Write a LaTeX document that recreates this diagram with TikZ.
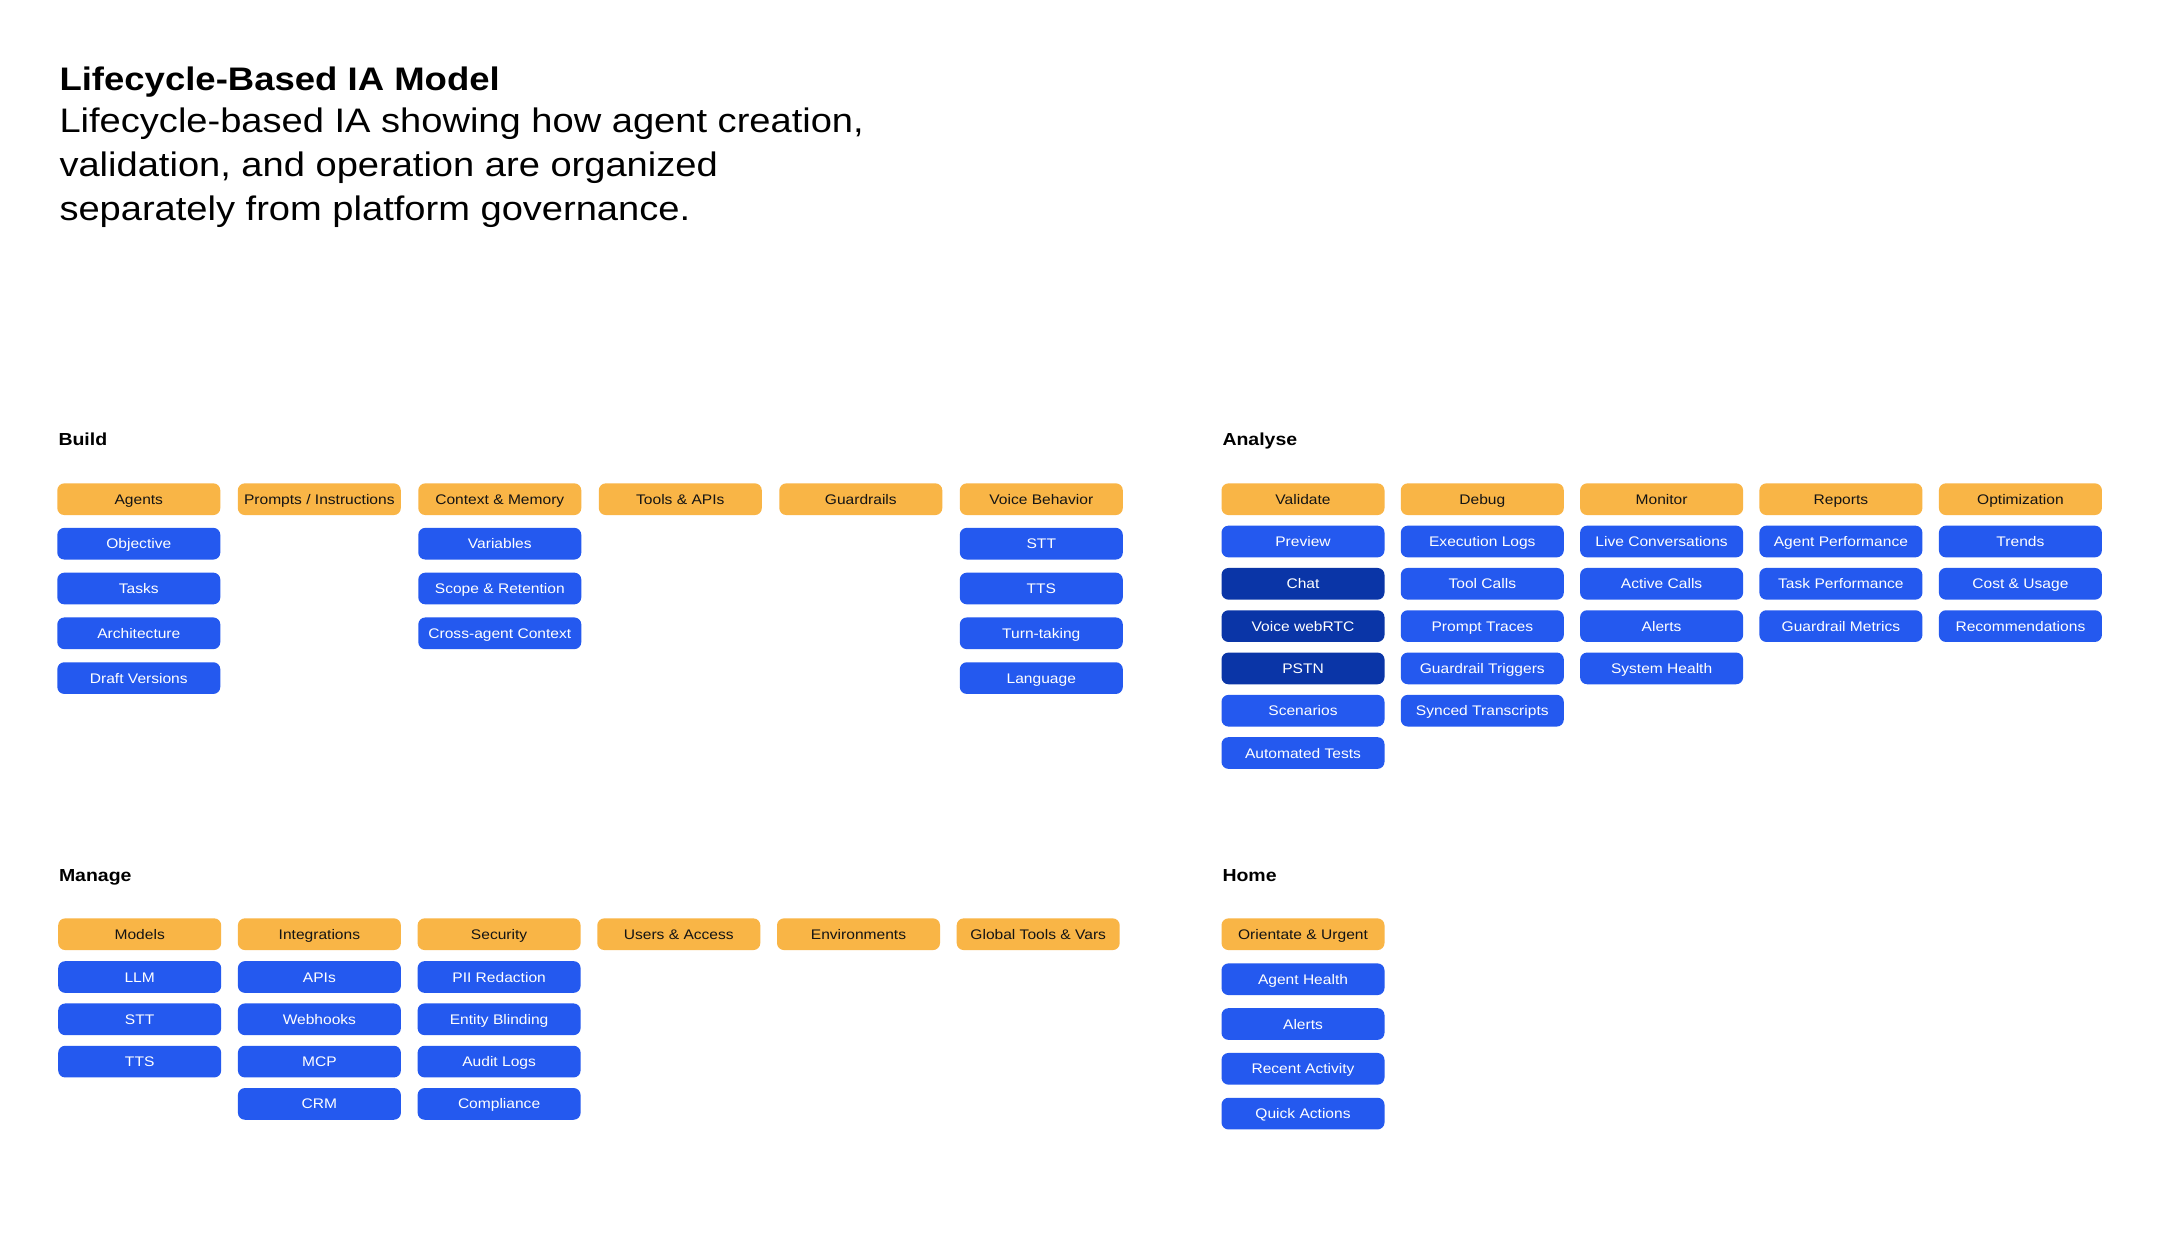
\documentclass[tikz,border=0pt]{standalone}
\usepackage{fontspec}
\setmainfont{Liberation Sans}[FakeStretch=1.12]
\definecolor{orng}{HTML}{F9B546}
\definecolor{blu}{HTML}{2459EF}
\definecolor{dblu}{HTML}{0A35A7}
\definecolor{ink}{HTML}{141414}
\begin{document}
\begin{tikzpicture}[x=1pt,y=-1pt,
  boxbase/.style={rounded corners=7pt, minimum width=163pt, minimum height=31.7pt,
    inner sep=0pt, text height=12pt, text depth=2pt, font=\fontsize{13.9}{16}\selectfont},
  cat/.style={boxbase, fill=orng, text=ink},
  item/.style={boxbase, fill=blu, text=white},
  ditem/.style={boxbase, fill=dblu, text=white},
  sect/.style={anchor=base west, inner sep=0pt, font=\fontsize{17.4}{20}\selectfont\bfseries, text=black},
  subline/.style={anchor=base west, inner sep=0pt, font=\fontsize{34}{44}\selectfont, text=black},
]
\useasboundingbox (0,0) rectangle (2182,1250);
\fill[white] (0,0) rectangle (2182,1250);

% Title
\node[anchor=base west, inner sep=0pt, font=\fontsize{32.6}{40}\selectfont\bfseries] (title) at (59.3,90) {Lifecycle-Based IA Model};
\node[subline] (sub1) at (59.3,132.7) {Lifecycle-based IA showing how agent creation,};
\node[subline] (sub2) at (59.3,176.7) {validation, and operation are organized};
\node[subline] (sub3) at (59.3,220) {separately from platform governance.};

% Section labels
\node[sect] (lbuild) at (58.3,445.7) {Build};
\node[sect] (lanalyse) at (1222.3,445.7) {Analyse};
\node[sect] (lmanage) at (58.8,881.7) {Manage};
\node[sect] (lhome) at (1222.3,881.7) {Home};

% ---------------- Build ----------------
\node[cat] (b1) at (138.8,499.2) {Agents};
\node[cat] (b2) at (319.3,499.2) {Prompts / Instructions};
\node[cat] (b3) at (499.8,499.2) {Context \& Memory};
\node[cat] (b4) at (680.3,499.2) {Tools \& APIs};
\node[cat] (b5) at (860.8,499.2) {Guardrails};
\node[cat] (b6) at (1041.3,499.2) {Voice Behavior};

\node[item] (b1a) at (138.8,543.7) {Objective};
\node[item] (b1b) at (138.8,588.5) {Tasks};
\node[item] (b1c) at (138.8,633.3) {Architecture};
\node[item] (b1d) at (138.8,678.1) {Draft Versions};

\node[item] (b3a) at (499.8,543.7) {Variables};
\node[item] (b3b) at (499.8,588.5) {Scope \& Retention};
\node[item] (b3c) at (499.8,633.3) {Cross-agent Context};

\node[item] (b6a) at (1041.3,543.7) {STT};
\node[item] (b6b) at (1041.3,588.5) {TTS};
\node[item] (b6c) at (1041.3,633.3) {Turn-taking};
\node[item] (b6d) at (1041.3,678.1) {Language};

% ---------------- Analyse ----------------
\node[cat] (a1) at (1303.0,499.2) {Validate};
\node[cat] (a2) at (1482.3,499.2) {Debug};
\node[cat] (a3) at (1661.6,499.2) {Monitor};
\node[cat] (a4) at (1840.9,499.2) {Reports};
\node[cat] (a5) at (2020.4,499.2) {Optimization};

\node[item]  (a1a) at (1303.0,541.5) {Preview};
\node[ditem] (a1b) at (1303.0,583.8) {Chat};
\node[ditem] (a1c) at (1303.0,626.1) {Voice webRTC};
\node[ditem] (a1d) at (1303.0,668.4) {PSTN};
\node[item]  (a1e) at (1303.0,710.7) {Scenarios};
\node[item]  (a1f) at (1303.0,753.0) {Automated Tests};

\node[item] (a2a) at (1482.3,541.5) {Execution Logs};
\node[item] (a2b) at (1482.3,583.8) {Tool Calls};
\node[item] (a2c) at (1482.3,626.1) {Prompt Traces};
\node[item] (a2d) at (1482.3,668.4) {Guardrail Triggers};
\node[item] (a2e) at (1482.3,710.7) {Synced Transcripts};

\node[item] (a3a) at (1661.6,541.5) {Live Conversations};
\node[item] (a3b) at (1661.6,583.8) {Active Calls};
\node[item] (a3c) at (1661.6,626.1) {Alerts};
\node[item] (a3d) at (1661.6,668.4) {System Health};

\node[item] (a4a) at (1840.9,541.5) {Agent Performance};
\node[item] (a4b) at (1840.9,583.8) {Task Performance};
\node[item] (a4c) at (1840.9,626.1) {Guardrail Metrics};

\node[item] (a5a) at (2020.4,541.5) {Trends};
\node[item] (a5b) at (2020.4,583.8) {Cost \& Usage};
\node[item] (a5c) at (2020.4,626.1) {Recommendations};

% ---------------- Manage ----------------
\node[cat] (m1) at (139.7,934.2) {Models};
\node[cat] (m2) at (319.4,934.2) {Integrations};
\node[cat] (m3) at (499.1,934.2) {Security};
\node[cat] (m4) at (678.8,934.2) {Users \& Access};
\node[cat] (m5) at (858.5,934.2) {Environments};
\node[cat] (m6) at (1038.2,934.2) {Global Tools \& Vars};

\node[item] (m1a) at (139.7,977.0) {LLM};
\node[item] (m1b) at (139.7,1019.3) {STT};
\node[item] (m1c) at (139.7,1061.6) {TTS};

\node[item] (m2a) at (319.4,977.0) {APIs};
\node[item] (m2b) at (319.4,1019.3) {Webhooks};
\node[item] (m2c) at (319.4,1061.6) {MCP};
\node[item] (m2d) at (319.4,1103.9) {CRM};

\node[item] (m3a) at (499.1,977.0) {PII Redaction};
\node[item] (m3b) at (499.1,1019.3) {Entity Blinding};
\node[item] (m3c) at (499.1,1061.6) {Audit Logs};
\node[item] (m3d) at (499.1,1103.9) {Compliance};

% ---------------- Home ----------------
\node[cat] (h1) at (1303.0,934.2) {Orientate \& Urgent};
\node[item] (h1a) at (1303.0,979.2) {Agent Health};
\node[item] (h1b) at (1303.0,1024.0) {Alerts};
\node[item] (h1c) at (1303.0,1068.8) {Recent Activity};
\node[item] (h1d) at (1303.0,1113.6) {Quick Actions};
\end{tikzpicture}
\end{document}
